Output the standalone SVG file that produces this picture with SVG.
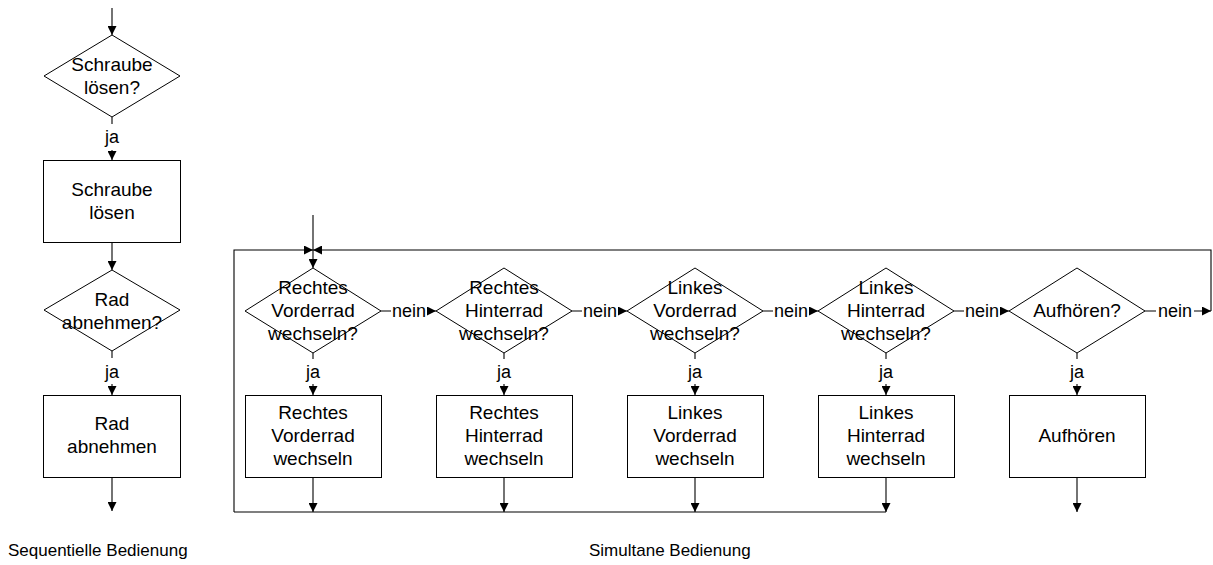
<svg xmlns="http://www.w3.org/2000/svg" width="1213" height="565" viewBox="0 0 1213 565">
  <style>
    .shape { fill: #ffffff; stroke: #000000; stroke-width: 1; }
    .line { fill: none; stroke: #000000; stroke-width: 1.1; }
    .arrow { marker-end: url(#head); }
    .txt { font-family: "Liberation Sans", Arial, sans-serif; font-size: 19px; fill: #000000; text-anchor: middle; }
    .lbl { font-family: "Liberation Sans", Arial, sans-serif; font-size: 18px; fill: #000000; text-anchor: middle; }
    .cap { font-family: "Liberation Sans", Arial, sans-serif; font-size: 17px; fill: #000000; }
    .lblbg { fill: #ffffff; stroke: none; }
  </style>
  <defs>
    <marker id="head" markerUnits="userSpaceOnUse" markerWidth="10" markerHeight="9" refX="9" refY="4.5" orient="auto">
      <path d="M0,0 L9,4.5 L0,9 Z" fill="#000000"/>
    </marker>
  </defs>
  <rect width="1213" height="565" fill="#ffffff"/>

  <!-- connectors -->
  <g id="connectors">
    <!-- sequential column -->
    <path class="line arrow" d="M112,8 V35"/>
    <path class="line arrow" d="M112,117 V160"/>
    <path class="line arrow" d="M112,242 V270"/>
    <path class="line arrow" d="M112,351 V395"/>
    <path class="line arrow" d="M112,477 V511"/>

    <!-- simultaneous row: entry and loop -->
    <path class="line arrow" d="M313,215 V268"/>
    <path class="line arrow" d="M234,512 V250 H313"/>
    <path class="line arrow" d="M1211,311 V250 H313"/>
    <path class="line" d="M234,512 H886"/>

    <!-- nein branches -->
    <path class="line arrow" d="M381,311 H436"/>
    <path class="line arrow" d="M572,311 H627"/>
    <path class="line arrow" d="M763,311 H818"/>
    <path class="line arrow" d="M954,311 H1009"/>
    <path class="line arrow" d="M1145,311 H1211"/>

    <!-- ja branches -->
    <path class="line arrow" d="M313,353 V395"/>
    <path class="line arrow" d="M504,353 V395"/>
    <path class="line arrow" d="M695,353 V395"/>
    <path class="line arrow" d="M886,353 V395"/>
    <path class="line arrow" d="M1077,353 V395"/>

    <!-- action outputs -->
    <path class="line arrow" d="M313,477 V512"/>
    <path class="line arrow" d="M504,477 V512"/>
    <path class="line arrow" d="M695,477 V512"/>
    <path class="line arrow" d="M886,477 V512"/>
    <path class="line arrow" d="M1077,477 V512"/>

    <!-- branch labels -->
    <rect class="lblbg" x="100" y="124" width="24" height="26"/>
    <text class="lbl" x="112" y="143">ja</text>
    <rect class="lblbg" x="100" y="358" width="24" height="26"/>
    <text class="lbl" x="112" y="378">ja</text>

    <rect class="lblbg" x="301" y="359" width="24" height="25"/>
    <text class="lbl" x="313" y="378">ja</text>
    <rect class="lblbg" x="492" y="359" width="24" height="25"/>
    <text class="lbl" x="504" y="378">ja</text>
    <rect class="lblbg" x="683" y="359" width="24" height="25"/>
    <text class="lbl" x="695" y="378">ja</text>
    <rect class="lblbg" x="874" y="359" width="24" height="25"/>
    <text class="lbl" x="886" y="378">ja</text>
    <rect class="lblbg" x="1065" y="359" width="24" height="25"/>
    <text class="lbl" x="1077" y="378">ja</text>

    <rect class="lblbg" x="391" y="300" width="36" height="22"/>
    <text class="lbl" x="409" y="317">nein</text>
    <rect class="lblbg" x="582" y="300" width="36" height="22"/>
    <text class="lbl" x="600" y="317">nein</text>
    <rect class="lblbg" x="773" y="300" width="36" height="22"/>
    <text class="lbl" x="791" y="317">nein</text>
    <rect class="lblbg" x="964" y="300" width="36" height="22"/>
    <text class="lbl" x="982" y="317">nein</text>
    <rect class="lblbg" x="1156" y="300" width="38" height="22"/>
    <text class="lbl" x="1175" y="317">nein</text>
  </g>

  <!-- sequential operation -->
  <g id="q-schraube">
    <polygon class="shape" points="112,35 180,76 112,117 44,76"/>
    <text class="txt" x="112" y="71">Schraube</text>
    <text class="txt" x="112" y="94">lösen?</text>
  </g>
  <g id="a-schraube">
    <rect class="shape" x="43.5" y="160.5" width="137" height="82"/>
    <text class="txt" x="112" y="196">Schraube</text>
    <text class="txt" x="112" y="219">lösen</text>
  </g>
  <g id="q-rad">
    <polygon class="shape" points="112,270 180,310 112,351 44,310"/>
    <text class="txt" x="112" y="306">Rad</text>
    <text class="txt" x="112" y="329">abnehmen?</text>
  </g>
  <g id="a-rad">
    <rect class="shape" x="43.5" y="395.5" width="137" height="82"/>
    <text class="txt" x="112" y="430">Rad</text>
    <text class="txt" x="112" y="453">abnehmen</text>
  </g>

  <!-- simultaneous operation: decisions -->
  <g id="q-rv">
    <polygon class="shape" points="313,268 381,311 313,353 245,311"/>
    <text class="txt" x="313" y="294">Rechtes</text>
    <text class="txt" x="313" y="317">Vorderrad</text>
    <text class="txt" x="313" y="340">wechseln?</text>
  </g>
  <g id="q-rh">
    <polygon class="shape" points="504,268 572,311 504,353 436,311"/>
    <text class="txt" x="504" y="294">Rechtes</text>
    <text class="txt" x="504" y="317">Hinterrad</text>
    <text class="txt" x="504" y="340">wechseln?</text>
  </g>
  <g id="q-lv">
    <polygon class="shape" points="695,268 763,311 695,353 627,311"/>
    <text class="txt" x="695" y="294">Linkes</text>
    <text class="txt" x="695" y="317">Vorderrad</text>
    <text class="txt" x="695" y="340">wechseln?</text>
  </g>
  <g id="q-lh">
    <polygon class="shape" points="886,268 954,311 886,353 818,311"/>
    <text class="txt" x="886" y="294">Linkes</text>
    <text class="txt" x="886" y="317">Hinterrad</text>
    <text class="txt" x="886" y="340">wechseln?</text>
  </g>
  <g id="q-stop">
    <polygon class="shape" points="1077,268 1145,311 1077,353 1009,311"/>
    <text class="txt" x="1077" y="317">Aufhören?</text>
  </g>

  <!-- simultaneous operation: actions -->
  <g id="a-rv">
    <rect class="shape" x="245.5" y="395.5" width="136" height="82"/>
    <text class="txt" x="313" y="419">Rechtes</text>
    <text class="txt" x="313" y="442">Vorderrad</text>
    <text class="txt" x="313" y="465">wechseln</text>
  </g>
  <g id="a-rh">
    <rect class="shape" x="436.5" y="395.5" width="136" height="82"/>
    <text class="txt" x="504" y="419">Rechtes</text>
    <text class="txt" x="504" y="442">Hinterrad</text>
    <text class="txt" x="504" y="465">wechseln</text>
  </g>
  <g id="a-lv">
    <rect class="shape" x="627.5" y="395.5" width="136" height="82"/>
    <text class="txt" x="695" y="419">Linkes</text>
    <text class="txt" x="695" y="442">Vorderrad</text>
    <text class="txt" x="695" y="465">wechseln</text>
  </g>
  <g id="a-lh">
    <rect class="shape" x="818.5" y="395.5" width="136" height="82"/>
    <text class="txt" x="886" y="419">Linkes</text>
    <text class="txt" x="886" y="442">Hinterrad</text>
    <text class="txt" x="886" y="465">wechseln</text>
  </g>
  <g id="a-stop">
    <rect class="shape" x="1009.5" y="395.5" width="136" height="82"/>
    <text class="txt" x="1077" y="442">Aufhören</text>
  </g>

  <!-- captions -->
  <text class="cap" x="8" y="556">Sequentielle Bedienung</text>
  <text class="cap" x="589" y="556">Simultane Bedienung</text>
</svg>
